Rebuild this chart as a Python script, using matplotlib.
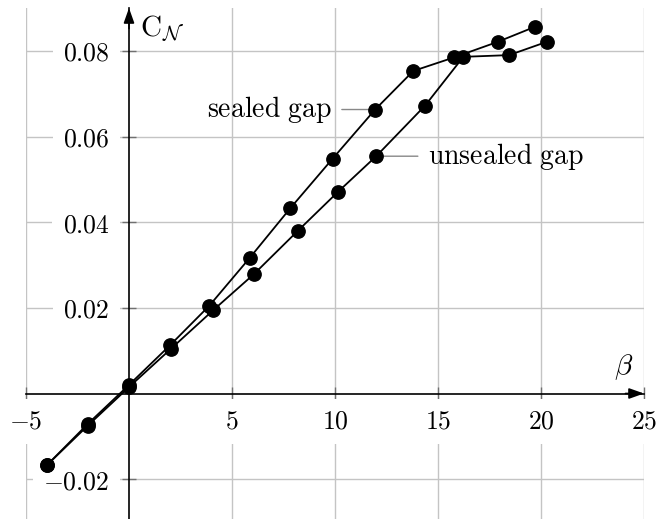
import numpy as np
import matplotlib
matplotlib.use("Agg")
import matplotlib.pyplot as plt

plt.rcParams['mathtext.fontset'] = 'cm'
plt.rcParams['font.family'] = 'serif'

# data
sealed_beta = [-4.0, -2.0, 0.0, 2.0, 3.9, 5.85, 7.82, 9.88, 11.95, 13.8, 15.8, 17.9, 19.7]
sealed_cn = [-0.0168, -0.0071, 0.0020, 0.0113, 0.0205, 0.0316, 0.0432, 0.0548,
             0.0663, 0.0753, 0.0785, 0.0821, 0.0856]
unsealed_beta = [-4.0, -2.0, 0.0, 2.05, 4.1, 6.07, 8.2, 10.15, 12.0, 14.37, 16.23, 18.45, 20.28]
unsealed_cn = [-0.0168, -0.0075, 0.0015, 0.0105, 0.0195, 0.0279, 0.0380, 0.0471,
               0.0554, 0.0672, 0.0786, 0.0790, 0.0821]

xticks = [-5, 5, 10, 15, 20, 25]
xlabels = ['$-5$', '$5$', '$10$', '$15$', '$20$', '$25$']
yticks = [-0.02, 0.02, 0.04, 0.06, 0.08]
ylabels = ['$-0.02$', '$0.02$', '$0.04$', '$0.06$', '$0.08$']

fs = 18.5
grid_col = '#c4c4c4'

fig = plt.figure(figsize=(6.57, 5.19), dpi=100)
ax = fig.add_axes([26/657, -3/519, 618/657, 514/519])
ax.set_xlim(-5, 25)
ax.set_ylim(-0.03, 0.09)

ax.plot(sealed_beta, sealed_cn, '-o', color='k', lw=1.3, ms=9.6, mec='k', mfc='k')
ax.plot(unsealed_beta, unsealed_cn, '-o', color='k', lw=1.3, ms=9.6, mec='k', mfc='k')

# axis lines through the origin
for s in ['top', 'right']:
    ax.spines[s].set_visible(False)
ax.spines['left'].set_position(('data', 0))
ax.spines['bottom'].set_position(('data', 0))
ax.spines['left'].set_linewidth(1.2)
ax.spines['bottom'].set_linewidth(1.2)
ax.set_axisbelow(True)

ax.set_xticks(xticks, labels=xlabels)
ax.set_yticks(yticks, labels=ylabels)
ax.tick_params(direction='inout', length=10, width=1, color='#707070',
               labelsize=fs, pad=6)
ax.tick_params(axis='y', pad=9)
for lab in ax.get_xticklabels() + ax.get_yticklabels():
    lab.set_bbox(dict(facecolor='white', edgecolor='none', boxstyle='square,pad=0.4'))
ax.grid(True, color=grid_col, lw=1)

# arrow heads
arw = dict(arrowstyle='-|>,head_length=0.45,head_width=0.16', color='k', lw=1.2,
           mutation_scale=20, shrinkA=0, shrinkB=0)
ax.annotate('', xy=(1, 0), xycoords=('axes fraction', 'data'),
            xytext=(0.97, 0), textcoords=('axes fraction', 'data'), arrowprops=arw)
ax.annotate('', xy=(0, 1), xycoords=('data', 'axes fraction'),
            xytext=(0, 0.96), textcoords=('data', 'axes fraction'), arrowprops=arw)

# axis labels
ax.annotate(r'$\beta$', xy=(25, 0), xytext=(-8, 8), textcoords='offset points',
            ha='right', va='bottom', fontsize=21)
ax.annotate(r'$\mathrm{C}_{\mathcal{N}}$', xy=(0, 0.09), xytext=(8, -4),
            textcoords='offset points', ha='left', va='top', fontsize=21)

# pins
ax.annotate(r'$\mathrm{sealed\ gap}$', xy=(sealed_beta[8], sealed_cn[8]),
            xytext=(-31, 0), textcoords='offset points', ha='right', va='center',
            fontsize=20, zorder=1,
            arrowprops=dict(arrowstyle='-', color='#888888', lw=1, shrinkA=5, shrinkB=0))
ax.annotate(r'$\mathrm{unsealed\ gap}$', xy=(unsealed_beta[8], unsealed_cn[8]),
            xytext=(37, 0), textcoords='offset points', ha='left', va='center',
            fontsize=20, zorder=1,
            arrowprops=dict(arrowstyle='-', color='#888888', lw=1, shrinkA=5, shrinkB=0))

fig.savefig('out.png', dpi=100)
